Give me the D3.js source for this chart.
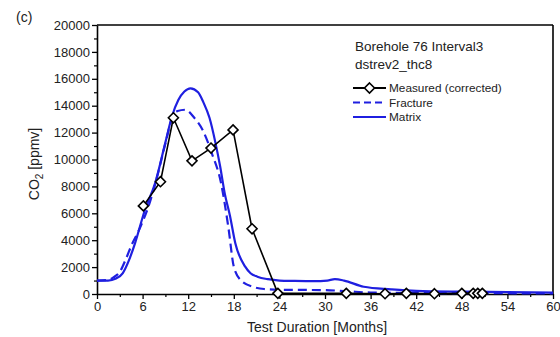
<!DOCTYPE html>
<html>
<head>
<meta charset="utf-8">
<script src="https://cdn.jsdelivr.net/npm/d3@7"></script>
<style>
  body { margin: 0; background: #fff; }
  text { font-family: "Liberation Sans", Arial, sans-serif; fill: #222; }
</style>
</head>
<body>
<div id="chart"></div>
<script>
// CO2 concentration vs test duration, borehole 76 interval 3
const xTicks = [0, 6, 12, 18, 24, 30, 36, 42, 48, 54, 60]
const yTicks = [0, 2000, 4000, 6000, 8000, 10000, 12000, 14000, 16000, 18000, 20000]

const measuredMonths = [6.1, 8.35, 10.05, 12.5, 15.0, 17.9, 20.4, 23.8, 32.8, 37.9, 40.7, 44.4, 48.0, 49.5, 50.1, 50.7]
const measuredCO2 = [6550, 8350, 13100, 9900, 10850, 12200, 4850, 50, 50, 20, 50, 20, 50, 50, 50, 50]

const fractureMonths = [0, 1.5, 2.2, 3.0, 3.8, 4.6, 5.4, 6.1, 7.0, 7.7, 9.0, 9.9, 10.6, 11.6, 12.8, 13.9, 15.1, 16.3, 17.3, 18.0, 18.9, 20.6, 22, 25, 30, 33, 36, 42, 50, 60]
const fractureCO2 = [1000, 1050, 1250, 1650, 2600, 3700, 4600, 5500, 6900, 8250, 11200, 13100, 13600, 13700, 13100, 12190, 10480, 8300, 4900, 2030, 1040, 520, 370, 310, 290, 200, 110, 80, 60, 50]

const matrixMonths = [0, 1.45, 2.5, 3.4, 4.2, 5.0, 6.3, 7.65, 8.97, 9.85, 10.7, 11.5, 12.3, 13.3, 14.0, 14.8, 15.6, 16.2, 16.8, 17.5, 18.2, 19.5, 20.2, 21.1, 22.5, 24, 26, 28.5, 30.3, 31.3, 32.5, 35.1, 38.7, 42, 48, 54, 60]
const matrixCO2 = [1000, 1000, 1150, 1560, 2500, 3770, 6245, 8250, 11200, 13180, 14420, 15050, 15290, 15000, 14250, 13100, 11200, 9500, 7500, 5800, 3770, 2030, 1540, 1290, 1100, 1000, 970, 950, 1000, 1100, 1000, 540, 350, 230, 170, 140, 100]

const width = 560, height = 337
const margin = {left: 97, right: 7, top: 25, bottom: 43}
const blue = '#1f1fe0'

const svg = d3.select('#chart').append('svg').attr('width', width).attr('height', height)

const xScale = d3.scaleLinear().domain([0, 60]).range([margin.left, width - margin.right])
const yScale = d3.scaleLinear().domain([0, 20000]).range([height - margin.bottom, margin.top])

// minor ticks first, then major axes on top
svg.append('g').attr('transform', 'translate(0,' + yScale(0) + ')')
    .call(d3.axisBottom(xScale).tickValues(d3.range(3, 60, 6)).tickSize(3).tickFormat(''))
    .call(g => g.select('.domain').remove())
    .selectAll('line').attr('stroke', '#000').attr('stroke-width', 1.2)
svg.append('g').attr('transform', 'translate(' + xScale(0) + ',0)')
    .call(d3.axisLeft(yScale).tickValues(d3.range(1000, 20000, 2000)).tickSize(3).tickFormat(''))
    .call(g => g.select('.domain').remove())
    .selectAll('line').attr('stroke', '#000').attr('stroke-width', 1.2)

const xAxis = svg.append('g').attr('transform', 'translate(0,' + yScale(0) + ')')
    .call(d3.axisBottom(xScale).tickValues(xTicks).tickSize(5).tickSizeOuter(0).tickPadding(3))
const yAxis = svg.append('g').attr('transform', 'translate(' + xScale(0) + ',0)')
    .call(d3.axisLeft(yScale).tickValues(yTicks).tickSize(5).tickSizeOuter(0).tickPadding(2).tickFormat(d3.format('d')))
for (let ax of [xAxis, yAxis]) {
    ax.select('.domain').attr('stroke', '#000').attr('stroke-width', 1.6)
    ax.selectAll('.tick line').attr('stroke', '#000').attr('stroke-width', 1.3)
    ax.selectAll('.tick text').attr('font-size', 13).attr('fill', '#222')
        .style('font-family', '"Liberation Sans", Arial, sans-serif')
}

// top and right frame
svg.append('line').attr('x1', xScale(0)).attr('x2', xScale(60)).attr('y1', yScale(20000)).attr('y2', yScale(20000))
    .attr('stroke', '#000').attr('stroke-width', 1.6)
svg.append('line').attr('x1', xScale(60)).attr('x2', xScale(60)).attr('y1', yScale(20000)).attr('y2', yScale(0))
    .attr('stroke', '#000').attr('stroke-width', 1.6)

const line = d3.line().x(d => xScale(d[0])).y(d => yScale(d[1]))
const smooth = d3.line().x(d => xScale(d[0])).y(d => yScale(d[1])).curve(d3.curveMonotoneX)

svg.append('path').datum(d3.zip(matrixMonths, matrixCO2)).attr('d', smooth)
    .attr('fill', 'none').attr('stroke', blue).attr('stroke-width', 2.2)
svg.append('path').datum(d3.zip(fractureMonths, fractureCO2)).attr('d', smooth)
    .attr('fill', 'none').attr('stroke', blue).attr('stroke-width', 2.2).attr('stroke-dasharray', '9,5')

const measured = d3.zip(measuredMonths, measuredCO2)
svg.append('path').datum(measured).attr('d', line)
    .attr('fill', 'none').attr('stroke', '#000').attr('stroke-width', 1.6)
const diamond = d3.symbol().type(d3.symbolDiamond2).size(64)
svg.selectAll('.pt').data(measured).enter().append('path').attr('class', 'pt')
    .attr('d', diamond).attr('transform', d => 'translate(' + xScale(d[0]) + ',' + yScale(d[1]) + ')')
    .attr('fill', '#fff').attr('stroke', '#000').attr('stroke-width', 1.6)

// titles
svg.append('text').attr('x', 16).attr('y', 22).attr('font-size', 14).text('(c)')
svg.append('text').attr('x', 317).attr('y', 332).attr('text-anchor', 'middle')
    .attr('font-size', 14).text('Test Duration [Months]')
const yTitle = svg.append('text').attr('transform', 'translate(39,164) rotate(-90)')
    .attr('text-anchor', 'middle').attr('font-size', 14)
yTitle.append('tspan').text('CO')
yTitle.append('tspan').attr('font-size', 10).attr('dy', 4).text('2')
yTitle.append('tspan').attr('dy', -4).text(' [ppmv]')

// legend
svg.append('text').attr('x', 355).attr('y', 51).attr('font-size', 13.5).text('Borehole 76 Interval3')
svg.append('text').attr('x', 355).attr('y', 69).attr('font-size', 13.5).text('dstrev2_thc8')
const legendItems = [
    {label: 'Measured (corrected)', color: '#000', dash: null, marker: true},
    {label: 'Fracture', color: blue, dash: '7,4', marker: false},
    {label: 'Matrix', color: blue, dash: null, marker: false}
]
legendItems.forEach((item, i) => {
    const y = 88 + i * 14.5
    svg.append('line').attr('x1', 353).attr('x2', 386).attr('y1', y).attr('y2', y)
        .attr('stroke', item.color).attr('stroke-width', item.marker ? 1.8 : 2)
        .attr('stroke-dasharray', item.dash)
    if (item.marker) {
        svg.append('path').attr('d', diamond).attr('transform', 'translate(369.5,' + y + ')')
            .attr('fill', '#fff').attr('stroke', '#000').attr('stroke-width', 1.6)
    }
    svg.append('text').attr('x', 389).attr('y', y + 4).attr('font-size', 11.8).text(item.label)
})
</script>
</body>
</html>
